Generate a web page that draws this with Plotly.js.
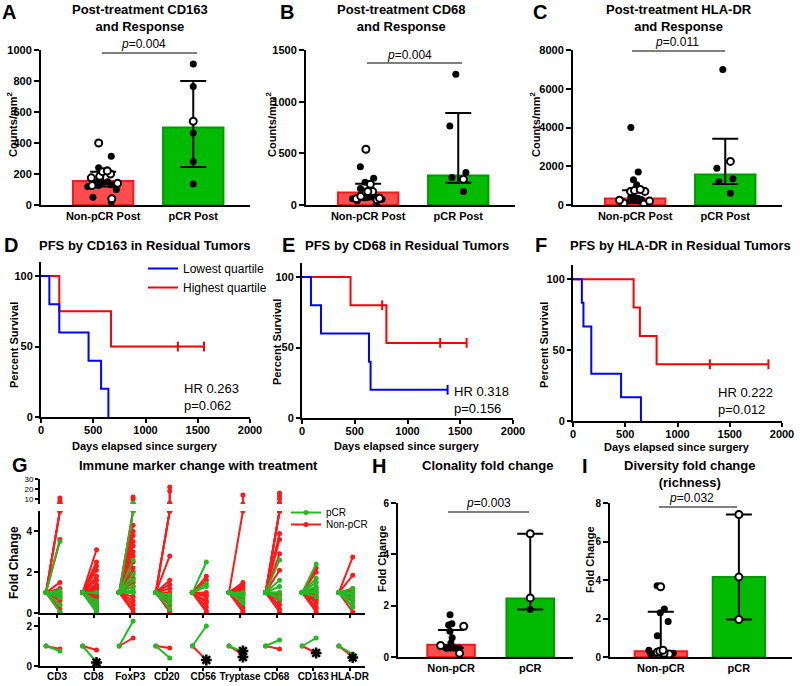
<!DOCTYPE html>
<html><head><meta charset="utf-8">
<script src="https://cdn.plot.ly/plotly-3.0.1.min.js"></script>
<style>html,body{margin:0;padding:0;background:#fff}#chart{width:800px;height:686px}</style>
</head><body><div id="chart"></div>
<script>
// ================= DATA =================
const groupsPost = ['Non-pCR Post', 'pCR Post'];
const groupsTcr = ['Non-pCR', 'pCR'];

// A: CD163 (counts/mm2)
const cd163Bar = [155, 500];
const cd163Hi = [215, 800];
const cd163Lo = [120, 245];
const cd163NonFilled = [315, 240, 225, 160, 150, 150, 145, 125, 120, 100, 50, 20, 130];
const cd163NonOpen = [400, 220, 215, 200, 185, 175, 140, 125, 40];
const cd163PcrFilled = [910, 765, 465, 280, 135];
const cd163PcrOpen = [540];

// B: CD68
const cd68Bar = [120, 285];
const cd68Hi = [205, 890];
const cd68Lo = [55, 215];
const cd68NonFilled = [370, 260, 220, 210, 160, 80, 75, 75, 70, 60, 55, 40, 85, 0];
const cd68NonOpen = [540, 200, 130, 130, 125, 65, 60, 50, 85];
const cd68PcrFilled = [1265, 765, 265, 315, 130];
const cd68PcrOpen = [250];

// C: HLA-DR
const hladrBar = [330, 1580];
const hladrHi = [760, 3420];
const hladrLo = [100, 1080];
const hladrNonFilled = [4000, 1700, 1300, 1050, 420, 380, 350, 300, 200, 150, 100, 50, 250, 280];
const hladrNonOpen = [800, 750, 700, 700, 250, 200, 100, 50];
const hladrPcrFilled = [7000, 1900, 1350, 1200, 600];
const hladrPcrOpen = [2250];

// D-F: Kaplan-Meier PFS (days, percent survival)
const dLowT = [0, 80, 175, 455, 575, 645];      const dLowS = [100, 80, 60, 40, 20, 0];    const dLowCens = [];
const dHighT = [0, 175, 670, 1560];             const dHighS = [100, 75, 50, 50];          const dHighCens = [1310, 1560];
const eLowT = [0, 85, 180, 635, 650, 1380];     const eLowS = [100, 80, 60, 40, 20, 20];   const eLowCens = [1380];
const eHighT = [0, 460, 800, 1560];             const eHighS = [100, 80, 53.3, 53.3];      const eHighCens = [760, 1310, 1560];
const fLowT = [0, 85, 100, 175, 460, 650];      const fLowS = [100, 83.3, 66.7, 33.3, 16.7, 0]; const fLowCens = [];
const fHighT = [0, 580, 640, 800, 1870];        const fHighS = [100, 80, 60, 40, 40];      const fHighCens = [1310, 1870];
const hrTexts = ['HR 0.263<br>p=0.062', 'HR 0.318<br>p=0.156', 'HR 0.222<br>p=0.012'];

// G: immune marker fold change (pre = 1)
const gMarkers = ['CD3', 'CD8', 'FoxP3', 'CD20', 'CD56', 'Tryptase', 'CD68', 'CD163', 'HLA-DR'];
const gPcrPost = [
  [3.5, 1.1, 1.0, 0.9, 0.75, 0.4, 0.05],
  [1.0, 0.6, 0.4, 0.2, 0.1, 0.05],
  [6, 2.6, 1.9, 1.6, 1.3, 1.1, 1.0],
  [0.9, 0.7, 0.5, 0.2],
  [2.5, 1.45, 1.3],
  [1.0, 0.9, 0.8, 0.6, 0.5],
  [2.6, 1.6, 1.3, 1.0, 0.8, 0.7],
  [2.4, 1.7, 1.5, 1.3, 1.1, 1.0, 0.8],
  [1.2, 1.0, 0.9, 0.7, 0.5, 0.3]
];
const gNonPost = [
  [11, 8, 6, 3.6, 1.5, 1.2, 1.0, 0.9, 0.8, 0.7, 0.6, 0.4, 0.2, 0.05],
  [3.1, 2.5, 2.3, 2.1, 1.8, 1.6, 1.4, 1.3, 1.2, 1.1, 1.0, 0.9, 0.8, 0.7, 0.5, 0.4, 0.3, 0.1, 0.05],
  [12, 10, 4.3, 4.0, 3.8, 3.5, 3.3, 3.0, 2.8, 2.5, 2.2, 2.0, 1.7, 1.5, 1.3, 1.0, 0.8, 0.6, 0.4, 0.2, 0.05],
  [22, 18, 6, 2.8, 1.6, 1.4, 1.2, 1.0, 0.9, 0.8, 0.6, 0.4, 0.1, 0.05],
  [1.8, 1.6, 1.0, 0.9, 0.8, 0.6, 0.5, 0.3, 0.1, 0.05],
  [14, 1.5, 1.4, 1.3, 1.2, 1.1, 1.0, 0.9, 0.7, 0.5, 0.3, 0.1, 0.05],
  [16, 13, 10, 6, 3.9, 3.6, 2.9, 2.1, 1.0, 0.9, 0.8, 0.6, 0.4, 0.2, 0.05],
  [2.2, 2.0, 1.2, 1.0, 0.9, 0.8, 0.7, 0.6, 0.5, 0.3, 0.2, 0.05],
  [2.75, 1.85, 1.2, 1.1, 1.0, 0.8, 0.6, 0.3, 0.05]
];
const gSubPcr = [0.75, 0.2, 2.25, 0.4, 2.0, 0.7, 1.3, 1.4, 0.6];
const gSubNon = [0.85, 0.8, 1.4, 0.9, 0.3, 0.55, 0.85, 0.65, 0.45];
const gStarMarker = ['CD8', 'CD56', 'Tryptase', 'Tryptase', 'CD163', 'HLA-DR'];
const gStarVal = [0.18, 0.3, 0.75, 0.45, 0.65, 0.42];

// H: clonality fold change
const clonBar = [0.48, 2.28];
const clonHi = [1.05, 4.8];
const clonLo = [0.35, 1.85];
const clonNonFilled = [1.65, 1.3, 1.25, 1.0, 0.75, 0.55, 0.35, 0.35, 0.35, 0.35, 0.35, 0.35];
const clonNonOpen = [1.2, 0.45, 0.15];
const clonPcrFilled = [1.85];
const clonPcrOpen = [4.8, 2.3];

// I: diversity fold change (richness)
const divBar = [0.3, 4.15];
const divHi = [2.35, 7.4];
const divLo = [0.15, 1.95];
const divNonFilled = [3.7, 2.5, 2.3, 1.85, 1.1, 0.35, 0.2, 0.15, 0.1];
const divNonOpen = [3.65, 0.35, 0.3, 0.25, 0.2, 0.15, 0.15];
const divPcrFilled = [];
const divPcrOpen = [7.4, 4.15, 1.95];

// ================= STYLE / LAYOUT HELPERS =================
const W = 800, H = 686;
const RED = '#ff0000', BLUE = '#0000ff', GREEN = '#22bb22', GRED = '#ff1a1a';
const barFill = ['#ff4d4d', '#00bb00'];
const barEdge = ['#ee1c1c', '#009900'];
const FONT = 'Liberation Sans, Arial, Helvetica, sans-serif';
const dx = (a, b) => [a / W, b / W];
const dy = (top, bot) => [1 - bot / H, 1 - top / H];
const axBase = {
  showline: true, linecolor: 'black', linewidth: 2, ticks: 'outside', ticklen: 5,
  tickwidth: 2, tickcolor: 'black', showgrid: false, zeroline: false, fixedrange: true,
  tickfont: {size: 11, weight: 'bold', color: 'black', family: FONT}
};

const traces = [];
const layout = {
  width: W, height: H, margin: {l: 0, r: 0, t: 0, b: 0},
  paper_bgcolor: 'white', plot_bgcolor: 'white',
  font: {family: FONT, color: 'black'},
  boxmode: 'overlay', barmode: 'overlay', showlegend: true,
  annotations: [], shapes: []
};

function addAxes(n, xd, yd, xopt, yopt) {
  const xs = n === 1 ? '' : String(n);
  layout['xaxis' + xs] = Object.assign({}, axBase, {domain: xd, anchor: 'y' + xs}, xopt);
  layout['yaxis' + xs] = Object.assign({}, axBase, {domain: yd, anchor: 'x' + xs}, yopt);
  return ['x' + xs, 'y' + xs];
}

function pts(cat, vals, open, jit, xa, ya) {
  if (!vals.length) return;
  traces.push({
    type: 'box', x: vals.map(() => cat), y: vals, boxpoints: 'all', jitter: jit, pointpos: 0,
    width: 0.55, fillcolor: 'rgba(0,0,0,0)', line: {color: 'rgba(0,0,0,0)', width: 0}, whiskerwidth: 0,
    marker: open ? {color: 'white', size: 7, line: {color: 'black', width: 2}} : {color: 'black', size: 7},
    xaxis: xa, yaxis: ya, hoverinfo: 'skip', showlegend: false
  });
}

function barPanel(n, xd, yd, cats, xr, yr, yticks, bar, hi, lo, nonF, nonO, pcrF, pcrO, pcrJit, bw) {
  const [xa, ya] = addAxes(n, xd, yd,
    {type: 'category', categoryarray: cats, range: xr, ticks: ''},
    {range: yr, tickvals: yticks});
  traces.push({
    type: 'bar', x: cats, y: bar, width: bw, xaxis: xa, yaxis: ya, hoverinfo: 'skip', showlegend: false,
    marker: {color: barFill, line: {color: barEdge, width: 2}},
    error_y: {type: 'data', symmetric: false, array: hi.map((h, i) => h - bar[i]),
      arrayminus: lo.map((l, i) => bar[i] - l), color: 'black', thickness: 2, width: 13}
  });
  pts(cats[0], nonF, false, 0.75, xa, ya);
  pts(cats[0], nonO, true, 0.75, xa, ya);
  pts(cats[1], pcrF, false, pcrJit, xa, ya);
  pts(cats[1], pcrO, true, pcrJit, xa, ya);
}

function ann(text, x, y, size, extra) {
  layout.annotations.push(Object.assign({
    text: text, x: x / W, y: 1 - y / H, xref: 'paper', yref: 'paper', showarrow: false,
    xanchor: 'center', yanchor: 'middle', font: {size: size, color: 'black', family: FONT}
  }, extra || {}));
}
function sigLine(x0, x1, y) {
  layout.shapes.push({type: 'line', xref: 'paper', yref: 'paper', x0: x0 / W, x1: x1 / W,
    y0: 1 - y / H, y1: 1 - y / H, line: {color: 'black', width: 1.2}});
}

// ================= PANELS A-C =================
barPanel(1, dx(41, 250), dy(50, 205), groupsPost, [-0.69, 1.63], [0, 1000], [0, 200, 400, 600, 800, 1000],
  cd163Bar, cd163Hi, cd163Lo, cd163NonFilled, cd163NonOpen, cd163PcrFilled, cd163PcrOpen, 0, 0.67);
barPanel(2, dx(306, 515), dy(50, 205), groupsPost, [-0.69, 1.63], [0, 1500], [0, 500, 1000, 1500],
  cd68Bar, cd68Hi, cd68Lo, cd68NonFilled, cd68NonOpen, cd68PcrFilled, cd68PcrOpen, 0.4, 0.67);
barPanel(3, dx(573, 782), dy(50, 205), groupsPost, [-0.69, 1.63], [0, 8000], [0, 2000, 4000, 6000, 8000],
  hladrBar, hladrHi, hladrLo, hladrNonFilled, hladrNonOpen, hladrPcrFilled, hladrPcrOpen, 0.4, 0.67);

// ================= PANELS D-F (KM) =================
function survAt(t, ts, ss) { let s = ss[0]; ts.forEach((v, i) => { if (v <= t) s = ss[i]; }); return s; }
function kmPanel(n, xd, yd, low, high, showLeg) {
  const [xa, ya] = addAxes(n, xd, yd,
    {range: [0, 2000], tickvals: [0, 500, 1000, 1500, 2000], ticklen: 4, ticklabelstandoff: -2},
    {range: [0, 110], tickvals: [0, 50, 100], ticklen: 4});
  [[high, RED, 'Highest quartile'], [low, BLUE, 'Lowest quartile']].forEach(([d, col, name]) => {
    traces.push({type: 'scatter', mode: 'lines', x: d[0], y: d[1], line: {shape: 'hv', color: col, width: 2},
      xaxis: xa, yaxis: ya, name: name, showlegend: showLeg, legend: 'legend', hoverinfo: 'skip', cliponaxis: false});
    if (d[2].length) traces.push({type: 'scatter', mode: 'markers', x: d[2], y: d[2].map(t => survAt(t, d[0], d[1])),
      marker: {symbol: 'line-ns-open', size: 7, color: col, line: {color: col, width: 2}}, xaxis: xa, yaxis: ya,
      showlegend: false, hoverinfo: 'skip', cliponaxis: false});
  });
}
kmPanel(4, dx(41, 250), dy(262, 417), [dLowT, dLowS, dLowCens], [dHighT, dHighS, dHighCens], true);
kmPanel(5, dx(302, 513), dy(263, 418), [eLowT, eLowS, eLowCens], [eHighT, eHighS, eHighCens], false);
kmPanel(6, dx(573, 782), dy(265, 421), [fLowT, fLowS, fLowCens], [fHighT, fHighS, fHighCens], false);

// ================= PANEL G (broken axis) =================
const gxr = [-0.464, 8.415];
const PRE = -0.3, POST = 0.08;
const [gxT, gyT] = addAxes(7, dx(40, 365), dy(479, 504), {range: gxr, visible: false},
  {range: [5, 30], tickvals: [10, 20, 30], ticklen: 3,
   tickfont: {size: 8, color: 'black', family: FONT}});
const [gxM, gyM] = addAxes(8, dx(40, 365), dy(511, 613),
  {range: gxr, tickvals: gMarkers.map((m, i) => i), showticklabels: false, ticklen: 3},
  {range: [0, 5], tickvals: [0, 2, 4], ticklen: 4,
   tickfont: {size: 10, weight: 'bold', color: 'black', family: FONT}});
const [gxB, gyB] = addAxes(9, dx(40, 365), dy(617, 666),
  {range: gxr, tickvals: gMarkers.map((m, i) => i), ticktext: gMarkers, ticklen: 3, tickangle: 0,
   ticklabelstandoff: -3, tickfont: {size: 10, weight: 'bold', color: 'black', family: FONT}},
  {range: [0, 2.45], tickvals: [0, 2], ticklen: 4,
   tickfont: {size: 10, weight: 'bold', color: 'black', family: FONT}});

function gGroup(arr, col, name, leg) {
  const mx = [], my = [], tx = [], ty = [];
  arr.forEach((vals, i) => vals.forEach(v => {
    mx.push(i + PRE, i + POST, null); my.push(1, Math.min(v, 5), null);
    if (v > 5) { tx.push(i + POST, i + POST, null); ty.push(5, v, null); }
  }));
  traces.push({type: 'scatter', mode: 'lines+markers', x: mx, y: my, xaxis: gxM, yaxis: gyM,
    line: {color: col, width: 2}, marker: {color: col, size: 5}, name: name, legend: leg,
    showlegend: true, hoverinfo: 'skip'});
  if (tx.length) traces.push({type: 'scatter', mode: 'lines+markers', x: tx, y: ty, xaxis: gxT, yaxis: gyT,
    line: {color: col, width: 2}, marker: {color: col, size: 5}, showlegend: false, hoverinfo: 'skip'});
}
gGroup(gNonPost, GRED, 'Non-pCR', 'legend3');
gGroup(gPcrPost, GREEN, 'pCR', 'legend2');

function gSub(vals, col) {
  const x = [], y = [];
  vals.forEach((v, i) => { x.push(i + PRE, i + POST, null); y.push(1, v, null); });
  traces.push({type: 'scatter', mode: 'lines+markers', x: x, y: y, xaxis: gxB, yaxis: gyB,
    line: {color: col, width: 2}, marker: {color: col, size: 5}, showlegend: false, hoverinfo: 'skip'});
}
gSub(gSubNon, GRED);
gSub(gSubPcr, GREEN);
traces.push({type: 'scatter', mode: 'markers', x: gStarMarker.map(m => gMarkers.indexOf(m) + POST), y: gStarVal,
  xaxis: gxB, yaxis: gyB, marker: {symbol: 'asterisk-open', size: 9, color: 'black', line: {color: 'black', width: 2.5}},
  showlegend: false, hoverinfo: 'skip', cliponaxis: false});

// ================= PANELS H, I =================
barPanel(10, dx(398, 573), dy(503, 657), groupsTcr, [-0.67, 1.54], [0, 6], [0, 2, 4, 6],
  clonBar, clonHi, clonLo, clonNonFilled, clonNonOpen, clonPcrFilled, clonPcrOpen, 0, 0.6);
barPanel(11, dx(610, 792), dy(503, 657), groupsTcr, [-0.65, 1.68], [0, 8], [0, 2, 4, 6, 8],
  divBar, divHi, divLo, divNonFilled, divNonOpen, divPcrFilled, divPcrOpen, 0, 0.67);
layout.yaxis10.tickfont = {size: 10, weight: 'bold', color: 'black', family: FONT};
layout.yaxis11.tickfont = {size: 10, weight: 'bold', color: 'black', family: FONT};

// ================= LEGENDS =================
layout.legend = {x: 143 / W, y: 1 - 254 / H, xanchor: 'left', yanchor: 'top', bgcolor: 'rgba(0,0,0,0)',
  font: {size: 12, color: 'black', family: FONT}, traceorder: 'reversed', itemwidth: 30};
const gLeg = {x: 286 / W, xanchor: 'left', yanchor: 'top', bgcolor: 'rgba(0,0,0,0)',
  font: {size: 10, color: 'black', family: FONT}, itemwidth: 30};
layout.legend2 = Object.assign({}, gLeg, {y: 1 - 498 / H});
layout.legend3 = Object.assign({}, gLeg, {y: 1 - 510 / H});

// ================= TEXT =================
const B = s => '<b>' + s + '</b>';
[['A', 9, 12], ['B', 287, 12], ['C', 540, 12], ['D', 11, 245], ['E', 288, 245], ['F', 541, 245],
 ['G', 20, 465], ['H', 379, 466], ['I', 585, 466]].forEach(([t, x, y]) => ann(B(t), x, y, 20));
ann(B('Post-treatment CD163<br>and Response'), 140, 18, 13);
ann(B('Post-treatment CD68<br>and Response'), 402, 18, 13);
ann(B('Post-treatment HLA-DR<br>and Response'), 679, 18, 13);
ann(B('PFS by CD163 in Residual Tumors'), 144, 245, 13);
ann(B('PFS by CD68 in Residual Tumors'), 407, 245, 13);
ann(B('PFS by HLA-DR in Residual Tumors'), 680, 245, 13);
ann(B('Immune marker change with treatment'), 198, 465, 13);
ann(B('Clonality fold change'), 487, 465, 13);
ann(B('Diversity fold change<br>(richness)'), 689, 474, 13);

ann('<i>p</i>=0.004', 143, 44, 12); sigLine(102, 197, 53);
ann('<i>p</i>=0.004', 410, 55, 12); sigLine(367, 462, 63);
ann('<i>p</i>=0.011', 677, 42, 12); sigLine(632, 725, 51);
ann('<i>p</i>=0.003', 489, 503, 12); sigLine(448, 529, 512);
ann('<i>p</i>=0.032', 691, 498, 12); sigLine(659, 737, 507);

const rot = {textangle: -90};
ann(B('Counts/mm<sup>2</sup>'), 12, 125, 11, rot);
ann(B('Counts/mm<sup>2</sup>'), 271, 125, 11, rot);
ann(B('Counts/mm<sup>2</sup>'), 535, 125, 11, rot);
ann(B('Percent Survival'), 14, 345, 11, rot);
ann(B('Percent Survival'), 277, 342, 11, rot);
ann(B('Percent Survival'), 544, 345, 11, rot);
ann(B('Fold Change'), 14, 563, 12, rot);
ann(B('Fold Change'), 382, 559, 11, rot);
ann(B('Fold Change'), 590, 560, 11, rot);
ann(B('Days elapsed since surgery'), 145, 446, 11);
ann(B('Days elapsed since surgery'), 407, 446, 11);
ann(B('Days elapsed since surgery'), 677, 447, 11);

const hrPos = [[182, 397], [452, 400], [716, 401]];
hrTexts.forEach((t, i) => ann(t, hrPos[i][0], hrPos[i][1], 13, {xanchor: 'left', align: 'left'}));

Plotly.newPlot('chart', traces, layout, {staticPlot: true, displayModeBar: false});
</script>
</body></html>
